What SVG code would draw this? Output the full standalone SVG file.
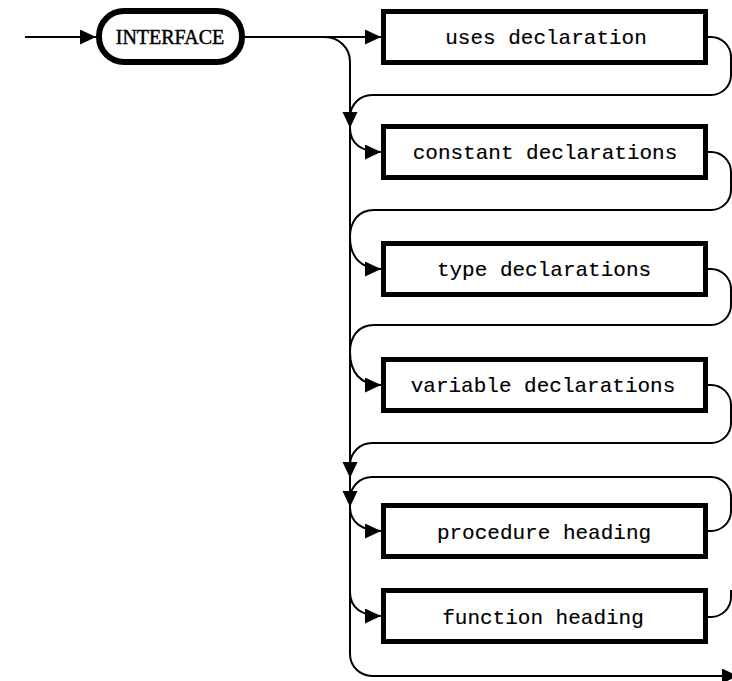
<svg xmlns="http://www.w3.org/2000/svg" width="732" height="681" viewBox="0 0 732 681">
<style>
.box{fill:#fff;stroke:#000;stroke-width:5}
.term{fill:#fff;stroke:#000;stroke-width:6}
.lbl{font-family:"Liberation Mono","DejaVu Sans Mono",monospace;font-size:21px;fill:#000;stroke:#000;stroke-width:0.15;text-anchor:middle}
.kw{font-family:"Liberation Serif","DejaVu Serif",serif;font-size:20px;fill:#000;stroke:#000;stroke-width:0.45;text-anchor:middle}
.ln{fill:none;stroke:#000;stroke-width:2}
.arr{marker-end:url(#ah)}
</style>
<defs>
<marker id="ah" markerUnits="userSpaceOnUse" markerWidth="17" markerHeight="16" refX="16" refY="7.5" orient="auto">
<path d="M0,0 L16,7.5 L0,15 z" fill="#000"/>
</marker>
</defs>
<rect width="732" height="681" fill="#fff"/>
<g id="connectors">
<path class="ln arr" d="M25 37 H96"/>
<path class="ln arr" d="M245 37 H381"/>
<path class="ln arr" d="M325 37 A25 25 0 0 1 350 62 V654 A22 22 0 0 0 372 676 H738"/>
<path class="ln arr" d="M708 37 H711 A20 20 0 0 1 731 57 V75 A20 20 0 0 1 711 95 H372 A22 22 0 0 0 350 117 V128"/>
<path class="ln arr" d="M350 128 C350 144 362 152 381 152"/>
<path class="ln arr" d="M708 152 H711 A20 20 0 0 1 731 172 V190 A20 20 0 0 1 711 210 H374 C358 210 350 222 350 237 C350 256 360 269 381 269"/>
<path class="ln arr" d="M708 269 H711 A20 20 0 0 1 731 289 V305 A20 20 0 0 1 711 325 H374 C358 325 350 337 350 352 C350 372 360 385 381 385"/>
<path class="ln arr" d="M708 385 H711 A20 20 0 0 1 731 405 V423 A20 20 0 0 1 711 443 H372 A22 22 0 0 0 350 465 V478"/>
<path class="ln arr" d="M708 531 H711 A20 20 0 0 0 731 511 V497 A20 20 0 0 0 711 477 H372 A22 22 0 0 0 350 499 V507"/>
<path class="ln arr" d="M350 507 C350 522 362 531 381 531"/>
<path class="ln" d="M708 617 H711 A20 20 0 0 0 731 597 V590"/>
<path class="ln arr" d="M350 592 C350 608 362 616 381 616"/>
</g>
<g id="interface">
<rect class="term" x="99" y="11" width="143" height="51" rx="25" ry="25"/>
<text class="kw" x="170" y="44">INTERFACE</text>
</g>
<g id="uses">
<rect class="box" x="383.5" y="11.5" width="322" height="51"/>
<text class="lbl" x="546" y="44">uses declaration</text>
</g>
<g id="constant">
<rect class="box" x="383.5" y="126.5" width="322" height="51"/>
<text class="lbl" x="545" y="159">constant declarations</text>
</g>
<g id="type">
<rect class="box" x="383.5" y="243.5" width="322" height="51"/>
<text class="lbl" x="544" y="276">type declarations</text>
</g>
<g id="variable">
<rect class="box" x="383.5" y="359.5" width="322" height="51"/>
<text class="lbl" x="543" y="392">variable declarations</text>
</g>
<g id="procedure">
<rect class="box" x="383.5" y="505.5" width="322" height="51"/>
<text class="lbl" x="544" y="539">procedure heading</text>
</g>
<g id="function">
<rect class="box" x="383.5" y="590.5" width="322" height="51"/>
<text class="lbl" x="543" y="624">function heading</text>
</g>
</svg>
